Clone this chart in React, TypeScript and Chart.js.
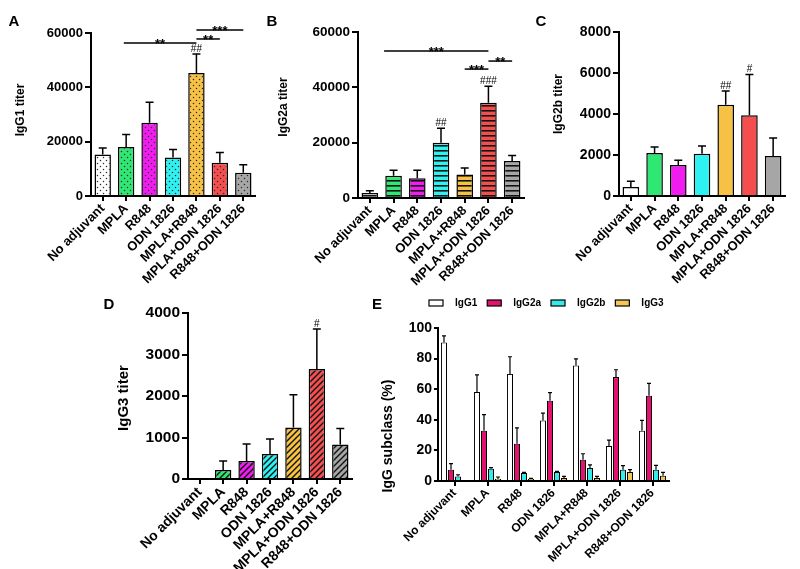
import React, { useEffect, useRef } from 'react';
import { Chart, registerables } from 'chart.js';

Chart.register(...registerables);

const FONT = "'Liberation Sans', Arial, Helvetica, sans-serif";

// ---------- data ----------
const groups = ['No adjuvant', 'MPLA', 'R848', 'ODN 1826', 'MPLA+R848', 'MPLA+ODN 1826', 'R848+ODN 1826'];
const groupColors = ['#ffffff', '#2ee873', '#f01cf0', '#2ef2f2', '#f7c244', '#f44e4e', '#a6a6a6'];

const igg1Titer = [15300, 18000, 27000, 14200, 45300, 12200, 8600];
const igg1Err = [2400, 4600, 7500, 2900, 7000, 3800, 2900];
const igg2aTiter = [1800, 8000, 7100, 20000, 8500, 34400, 13400];
const igg2aErr = [800, 2000, 2900, 5200, 2300, 6000, 2000];
const igg2bTiter = [440, 2100, 1510, 2065, 4455, 3935, 1950];
const igg2bErr = [275, 290, 230, 375, 665, 1995, 880];
const igg3Titer = [0, 217, 435, 604, 1240, 2648, 829];
const igg3Err = [0, 218, 410, 362, 788, 966, 386];

const subclassNames = ['IgG1', 'IgG2a', 'IgG2b', 'IgG3'];
const subclassColors = ['#ffffff', '#e3126f', '#37eaea', '#f5c558'];
const pctIgG1 = [90.5, 58.1, 70.0, 39.5, 75.5, 22.8, 32.9];
const pctIgG1Err = [4.3, 11.3, 11.2, 4.8, 4.3, 3.9, 6.7];
const pctIgG2a = [7.4, 32.8, 24.3, 52.5, 13.9, 67.9, 55.7];
const pctIgG2aErr = [3.9, 10.6, 10.4, 5.2, 3.9, 4.8, 8.1];
const pctIgG2b = [3.0, 8.0, 5.2, 5.9, 8.5, 7.4, 7.4];
const pctIgG2bErr = [1.1, 0.7, 0.4, 0.4, 2.1, 2.6, 2.8];
const pctIgG3 = [0, 1.3, 1.3, 2.0, 2.0, 5.9, 3.5];
const pctIgG3Err = [0, 1.3, 0.4, 1.0, 1.0, 1.5, 2.1];

type Bracket = { from: number; to: number; y: number; label: string };
const bracketsA: Bracket[] = [
  { from: 0.9, to: 4, y: 56300, label: '**' },
  { from: 4, to: 5, y: 57800, label: '**' },
  { from: 4, to: 6, y: 61100, label: '***' },
];
const bracketsB: Bracket[] = [
  { from: 0.6, to: 5, y: 53100, label: '***' },
  { from: 4, to: 5, y: 46600, label: '***' },
  { from: 5, to: 6, y: 49500, label: '**' },
];
const hashesA = ['', '', '', '', '##', '', ''];
const hashesB = ['', '', '', '##', '', '###', ''];
const hashesC = ['', '', '', '', '##', '#', ''];
const hashesD = ['', '', '', '', '', '#', ''];

// ---------- helpers ----------
type Box = { left: number; top: number; width: number; height: number };
type Area = { left: number; top: number; right: number; bottom: number };

function makeFill(ctx: CanvasRenderingContext2D, kind: string, color: string): any {
  if (kind === 'solid') return color;
  const size = kind === 'hlines' ? 5 : 6;
  const t = document.createElement('canvas');
  t.width = size;
  t.height = size;
  const g = t.getContext('2d')!;
  g.fillStyle = color;
  g.fillRect(0, 0, size, size);
  if (kind === 'dots') {
    g.fillStyle = '#2a2a2a';
    [[1.5, 1.5], [4.5, 4.5]].forEach(([cx, cy]) => {
      g.beginPath();
      g.arc(cx, cy, 0.75, 0, Math.PI * 2);
      g.fill();
    });
  } else if (kind === 'hlines') {
    g.fillStyle = '#111';
    g.fillRect(0, 0, size, 1.6);
  } else if (kind === 'diag') {
    g.strokeStyle = '#111';
    g.lineWidth = 1.4;
    g.beginPath();
    g.moveTo(0, size);
    g.lineTo(size, 0);
    g.moveTo(-1, 1);
    g.lineTo(1, -1);
    g.moveTo(size - 1, size + 1);
    g.lineTo(size + 1, size - 1);
    g.stroke();
  }
  return ctx.createPattern(t, 'repeat');
}

function errorBarPlugin(lineWidth: number, capHalf: number) {
  return {
    id: 'errorBars',
    afterDatasetsDraw(chart: any) {
      const { ctx } = chart;
      const y = chart.scales.y;
      chart.data.datasets.forEach((ds: any, di: number) => {
        const errs: number[] | undefined = ds.errorBars;
        if (!errs) return;
        const meta = chart.getDatasetMeta(di);
        meta.data.forEach((bar: any, i: number) => {
          const e = errs[i];
          if (!e) return;
          const top = y.getPixelForValue((ds.data[i] as number) + e);
          ctx.save();
          ctx.strokeStyle = '#000';
          ctx.lineWidth = lineWidth;
          ctx.beginPath();
          ctx.moveTo(bar.x, bar.y);
          ctx.lineTo(bar.x, top);
          ctx.moveTo(bar.x - capHalf, top);
          ctx.lineTo(bar.x + capHalf, top);
          ctx.stroke();
          ctx.restore();
        });
      });
    },
  };
}

type Annot = {
  box: Box;
  letter: string;
  letterX: number;
  letterY: number;
  title: string;
  titleX: number;
  titleY: number;
  titleSize: number;
  brackets?: Bracket[];
  hashes?: string[];
  legend?: boolean;
};

function annotationPlugin(a: Annot) {
  return {
    id: 'panelText',
    afterDatasetsDraw(chart: any) {
      const { ctx } = chart;
      const xs = chart.scales.x;
      const ys = chart.scales.y;
      ctx.save();
      ctx.fillStyle = '#000';
      ctx.strokeStyle = '#000';
      // panel letter
      ctx.font = `bold 15px ${FONT}`;
      ctx.textAlign = 'center';
      ctx.textBaseline = 'middle';
      ctx.fillText(a.letter, a.letterX - a.box.left, a.letterY - a.box.top);
      // y title
      ctx.save();
      ctx.translate(a.titleX - a.box.left, a.titleY - a.box.top);
      ctx.rotate(-Math.PI / 2);
      ctx.font = `bold ${a.titleSize}px ${FONT}`;
      ctx.fillText(a.title, 0, 0);
      ctx.restore();
      // significance brackets
      (a.brackets || []).forEach((b) => {
        const x1 = xs.getPixelForValue(b.from);
        const x2 = xs.getPixelForValue(b.to);
        const yy = ys.getPixelForValue(b.y);
        ctx.lineWidth = 1.5;
        ctx.beginPath();
        ctx.moveTo(x1, yy);
        ctx.lineTo(x2, yy);
        ctx.stroke();
        ctx.font = `bold 13px ${FONT}`;
        ctx.textBaseline = 'alphabetic';
        ctx.fillText(b.label, (x1 + x2) / 2, yy + 5);
      });
      // hash marks
      if (a.hashes) {
        const ds = chart.data.datasets[0];
        const meta = chart.getDatasetMeta(0);
        ctx.font = `10px ${FONT}`;
        ctx.textBaseline = 'alphabetic';
        a.hashes.forEach((h, i) => {
          if (!h) return;
          const v = ds.data[i] + ((ds.errorBars && ds.errorBars[i]) || 0);
          ctx.fillText(h, meta.data[i].x, ys.getPixelForValue(v) - 2);
        });
      }
      // legend (panel E)
      if (a.legend) {
        const ca = chart.chartArea;
        let x = ca.left - 9;
        const cy = ca.top - 25;
        ctx.font = `bold 10px ${FONT}`;
        ctx.textAlign = 'left';
        ctx.textBaseline = 'middle';
        chart.data.datasets.forEach((ds: any) => {
          ctx.fillStyle = ds.backgroundColor;
          ctx.fillRect(x, cy - 3, 14, 6);
          ctx.lineWidth = 1.2;
          ctx.strokeStyle = '#000';
          ctx.strokeRect(x, cy - 3, 14, 6);
          ctx.fillStyle = '#000';
          ctx.fillText(ds.label, x + 26, cy);
          x += 26 + ctx.measureText(ds.label).width + 10;
        });
      }
      ctx.restore();
    },
  };
}

function axesOptions(box: Box, area: Area, yMax: number, yStep: number, tickSize: number, labelSize: number, yTickLen: number) {
  const yWidth = area.left - box.left;
  const xHeight = box.top + box.height - area.bottom;
  return {
    responsive: false,
    animation: false as const,
    devicePixelRatio: 1,
    layout: {
      padding: { top: area.top - box.top, right: box.left + box.width - area.right, left: 0, bottom: 0 },
    },
    plugins: { legend: { display: false }, tooltip: { enabled: false }, title: { display: false } },
    scales: {
      x: {
        grid: { offset: false, drawOnChartArea: false, drawTicks: true, tickLength: 5, color: '#000', lineWidth: 2 },
        border: { display: true, color: '#000', width: 2 },
        ticks: {
          color: '#000',
          font: { family: FONT, size: labelSize, weight: 'bold' },
          minRotation: 45,
          maxRotation: 45,
          autoSkip: false,
          padding: 0,
        },
        afterFit: (s: any) => {
          s.height = xHeight;
          s.paddingLeft = 0;
          s.paddingRight = 0;
        },
      },
      y: {
        min: 0,
        max: yMax,
        ticks: {
          stepSize: yStep,
          color: '#000',
          font: { family: FONT, size: tickSize, weight: 'bold' },
          padding: 2,
          callback: (v: any) => String(v),
        },
        grid: { drawOnChartArea: false, drawTicks: true, tickLength: yTickLen, color: '#000', lineWidth: 2 },
        border: { display: true, color: '#000', width: 2 },
        afterFit: (s: any) => {
          s.width = yWidth;
          s.paddingTop = 0;
          s.paddingBottom = 0;
        },
      },
    },
  };
}

type TiterSpec = {
  box: Box;
  area: Area;
  values: number[];
  errors: number[];
  fill: string;
  yMax: number;
  yStep: number;
  tickSize: number;
  labelSize: number;
  annot: Annot;
};

function titerConfig(ctx: CanvasRenderingContext2D, s: TiterSpec): any {
  return {
    type: 'bar',
    data: {
      labels: groups,
      datasets: [
        {
          data: s.values,
          errorBars: s.errors,
          backgroundColor: groupColors.map((c) => makeFill(ctx, s.fill, c)),
          borderColor: '#000',
          borderWidth: 1.5,
          barPercentage: 0.7,
          categoryPercentage: 1,
        },
      ],
    },
    options: axesOptions(s.box, s.area, s.yMax, s.yStep, s.tickSize, s.labelSize, 6),
    plugins: [errorBarPlugin(1.5, 4), annotationPlugin(s.annot)],
  };
}

function subclassConfig(box: Box, area: Area, annot: Annot): any {
  const vals = [pctIgG1, pctIgG2a, pctIgG2b, pctIgG3];
  const errs = [pctIgG1Err, pctIgG2aErr, pctIgG2bErr, pctIgG3Err];
  const opts: any = axesOptions(box, area, 100, 20, 14, 12, 4);
  return {
    type: 'bar',
    data: {
      labels: groups,
      datasets: subclassNames.map((n, k) => ({
        label: n,
        data: vals[k],
        errorBars: errs[k],
        backgroundColor: subclassColors[k],
        borderColor: '#000',
        borderWidth: 1,
        barPercentage: 0.86,
        categoryPercentage: 0.85,
      })),
    },
    options: opts,
    plugins: [errorBarPlugin(1.2, 2), annotationPlugin(annot)],
  };
}

// ---------- layout ----------
const boxA: Box = { left: 0, top: 0, width: 262, height: 290 };
const boxB: Box = { left: 262, top: 0, width: 268, height: 290 };
const boxC: Box = { left: 530, top: 0, width: 270, height: 290 };
const boxD: Box = { left: 90, top: 290, width: 275, height: 279 };
const boxE: Box = { left: 365, top: 290, width: 435, height: 279 };

function Panel({ box, build }: { box: Box; build: (ctx: CanvasRenderingContext2D) => any }) {
  const ref = useRef<HTMLCanvasElement>(null);
  useEffect(() => {
    const canvas = ref.current!;
    const ctx = canvas.getContext('2d')!;
    const chart = new Chart(ctx, build(ctx));
    return () => chart.destroy();
  }, []);
  return (
    <div style={{ position: 'absolute', left: box.left, top: box.top, width: box.width, height: box.height }}>
      <canvas ref={ref} width={box.width} height={box.height} style={{ width: box.width, height: box.height, display: 'block' }} />
    </div>
  );
}

export default function App() {
  return (
    <div style={{ position: 'fixed', left: 0, top: 0, width: 800, height: 569, background: '#fff', overflow: 'hidden' }}>
      <Panel
        box={boxA}
        build={(ctx) =>
          titerConfig(ctx, {
            box: boxA,
            area: { left: 91, top: 33, right: 255, bottom: 196 },
            values: igg1Titer,
            errors: igg1Err,
            fill: 'dots',
            yMax: 60000,
            yStep: 20000,
            tickSize: 13,
            labelSize: 13,
            annot: { box: boxA, letter: 'A', letterX: 14, letterY: 22, title: 'IgG1 titer', titleX: 21, titleY: 110, titleSize: 12, brackets: bracketsA, hashes: hashesA },
          })
        }
      />
      <Panel
        box={boxB}
        build={(ctx) =>
          titerConfig(ctx, {
            box: boxB,
            area: { left: 358, top: 32, right: 524, bottom: 198 },
            values: igg2aTiter,
            errors: igg2aErr,
            fill: 'hlines',
            yMax: 60000,
            yStep: 20000,
            tickSize: 13.5,
            labelSize: 13,
            annot: { box: boxB, letter: 'B', letterX: 272, letterY: 22, title: 'IgG2a titer', titleX: 284, titleY: 107, titleSize: 12, brackets: bracketsB, hashes: hashesB },
          })
        }
      />
      <Panel
        box={boxC}
        build={(ctx) =>
          titerConfig(ctx, {
            box: boxC,
            area: { left: 619, top: 32, right: 785, bottom: 196 },
            values: igg2bTiter,
            errors: igg2bErr,
            fill: 'solid',
            yMax: 8000,
            yStep: 2000,
            tickSize: 14,
            labelSize: 13,
            annot: { box: boxC, letter: 'C', letterX: 541, letterY: 22, title: 'IgG2b titer', titleX: 559, titleY: 104, titleSize: 12, hashes: hashesC },
          })
        }
      />
      <Panel
        box={boxD}
        build={(ctx) =>
          titerConfig(ctx, {
            box: boxD,
            area: { left: 188, top: 313, right: 352, bottom: 479 },
            values: igg3Titer,
            errors: igg3Err,
            fill: 'diag',
            yMax: 4000,
            yStep: 1000,
            tickSize: 15.5,
            labelSize: 14,
            annot: { box: boxD, letter: 'D', letterX: 109, letterY: 305, title: 'IgG3 titer', titleX: 124, titleY: 398, titleSize: 15, hashes: hashesD },
          })
        }
      />
      <Panel
        box={boxE}
        build={() =>
          subclassConfig(boxE, { left: 438, top: 328, right: 669, bottom: 481 }, {
            box: boxE,
            letter: 'E',
            letterX: 377,
            letterY: 305,
            title: 'IgG subclass (%)',
            titleX: 388,
            titleY: 436,
            titleSize: 14,
            legend: true,
          })
        }
      />
    </div>
  );
}
